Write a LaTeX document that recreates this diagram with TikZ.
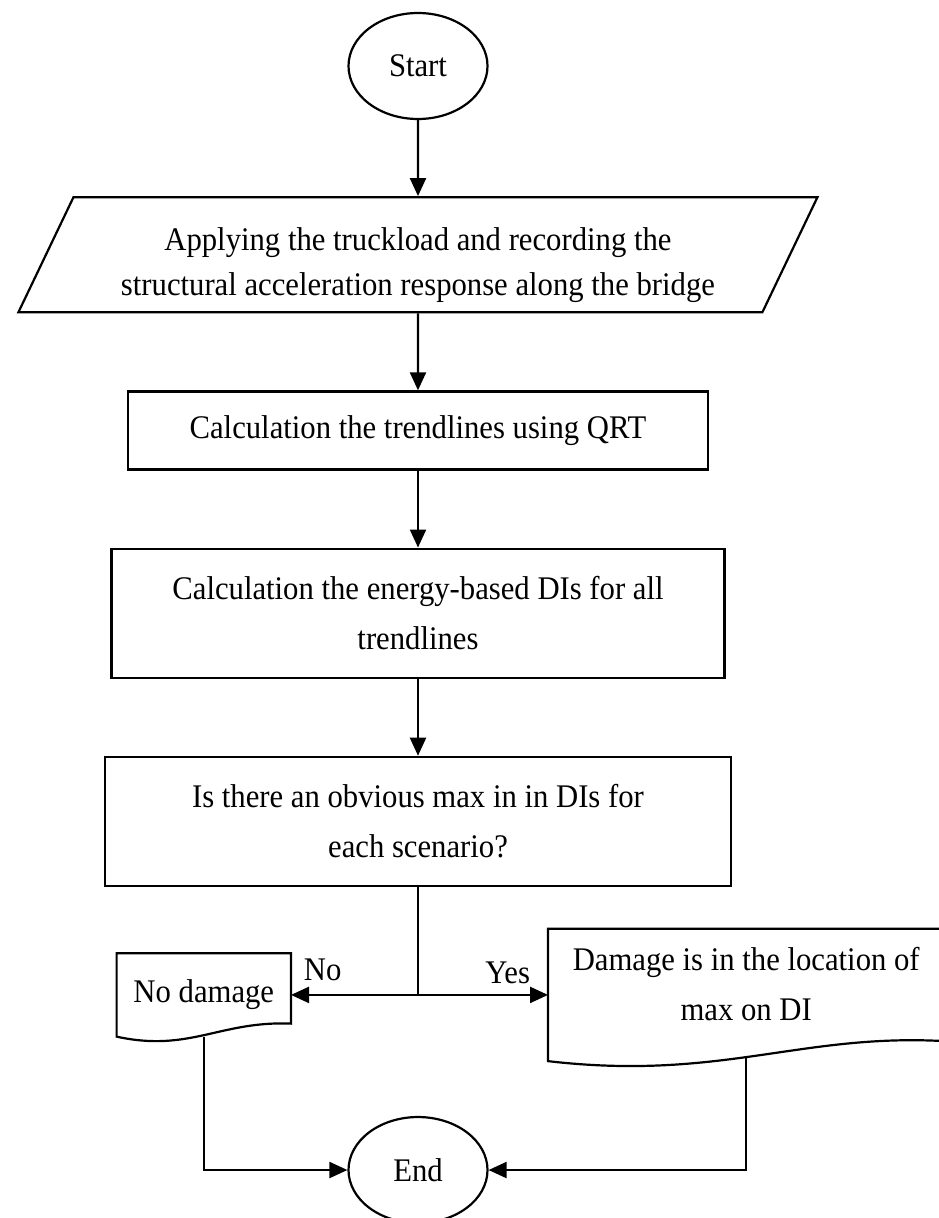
\documentclass[tikz,border=0pt]{standalone}
\usepackage{fontspec}
\setmainfont[FakeStretch=0.93]{Liberation Serif}
\usetikzlibrary{positioning,arrows.meta,shapes.geometric,calc}

\begin{document}
\begin{tikzpicture}[
  x=1pt, y=-1pt,
  node distance=77pt,
  font=\fontsize{33}{50}\selectfont,
  terminal/.style={ellipse, draw, line width=2.2pt, minimum width=139pt, minimum height=106pt},
  io/.style={trapezium, trapezium left angle=61.6, trapezium right angle=118.4, trapezium stretches body, draw, line width=2.2pt, minimum width=799pt, minimum height=115pt, align=center, font=\fontsize{33}{45}\selectfont},
  process/.style={rectangle, draw, line width=2.2pt, align=center},
  doc/.style={rectangle, align=center},
  docline/.style={line width=2.2pt},
  link/.style={line width=2.2pt},
  arrow/.style={-{Triangle[length=18pt,width=16pt]}, line width=2.2pt}
]
  \useasboundingbox (0,0) rectangle (939,1218);
  \clip (0,0) rectangle (939,1218);

  % Nodes
  \node[terminal] (start) at (418,66) {Start};
  \node[io, below=76pt of start] (input) {\rule{0pt}{43pt}Applying the truckload and recording the\\structural acceleration response along the bridge};
  \node[process, below=of input, minimum width=580pt, minimum height=78pt] (qrt) {Calculation the trendlines using QRT};
  \node[process, below=of qrt, minimum width=613pt, minimum height=129pt] (energy) {Calculation the energy-based DIs for all\\trendlines};
  \node[process, below=of energy, minimum width=626pt, minimum height=129pt] (check) {Is there an obvious max in in DIs for\\each scenario?};

  \coordinate[below=108pt of check] (split);
  \node[doc, left=127pt of split, minimum width=174pt, minimum height=83pt] (nodmg) {No damage};
  \node[doc, right=130pt of split, minimum width=396pt, minimum height=132pt] (yes) {Damage is in the location of\\max on DI\rule[-22pt]{0pt}{0pt}};
  \node[terminal, below=121pt of split] (end) {End};

  % Document outlines
  \draw[docline] (nodmg.south west) -- (nodmg.north west) -- (nodmg.north east) -- ($(nodmg.south east)+(0,-13)$)
    .. controls ($(nodmg.south east)+(-71,-16)$) and ($(nodmg.south west)+(73,16)$) .. (nodmg.south west) -- cycle;
  \draw[docline] (yes.south west) -- (yes.north west) -- (yes.north east) -- ($(yes.south east)+(0,-20)$)
    .. controls ($(yes.south east)+(-144,-28)$) and ($(yes.south west)+(172,20)$) .. (yes.south west) -- cycle;
  \coordinate (yesfoot) at ($(yes.south)+(0,-5)$);

  % Arrows
  \draw[arrow] (start) -- (input);
  \draw[arrow] (input) -- (qrt);
  \draw[arrow] (qrt) -- (energy);
  \draw[arrow] (energy) -- (check);

  \draw[link] (check) -- (split);
  \draw[arrow] (split) -- node[above=10pt, pos=0.75] {No} (nodmg);
  \draw[arrow] (split) -- node[above=7pt, pos=0.69] {Yes} (yes);

  \draw[arrow] (nodmg.south) |- (end);
  \draw[arrow] (yesfoot) |- (end);

\end{tikzpicture}
\end{document}
